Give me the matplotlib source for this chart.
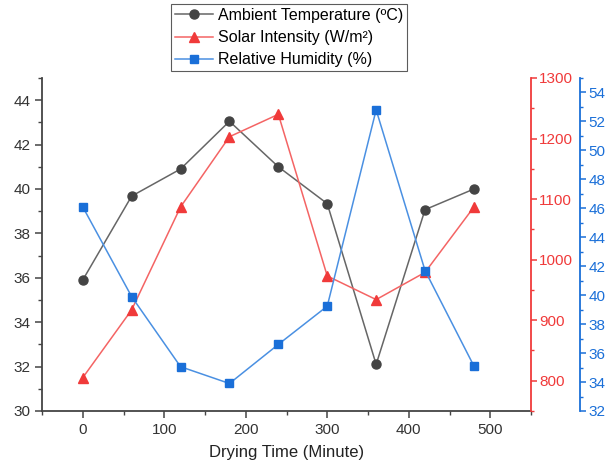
import matplotlib
matplotlib.use("Agg")
import matplotlib.pyplot as plt
from matplotlib.ticker import MultipleLocator

plt.rcParams['font.family'] = ['Liberation Sans', 'DejaVu Sans']

time_min = [0, 60, 120, 180, 240, 300, 360, 420, 480]
ambient_temp = [35.9, 39.68, 40.9, 43.05, 41.0, 39.34, 32.1, 39.07, 40.0]
solar_intensity = [805, 917, 1087, 1203, 1240, 973, 934, 979, 1087]
rel_humidity = [46.1, 39.9, 35.06, 33.9, 36.6, 39.24, 52.8, 41.7, 35.1]

c_black = '#444444'
c_red = '#F03A3A'
c_blue = '#1A6FD8'

fig = plt.figure(figsize=(6.15, 4.66), dpi=100)
ax = fig.add_axes([42/615, 1-411/466, (531-42)/615, (411-78)/466])
ax2 = ax.twinx()
ax3 = ax.twinx()

l1, = ax.plot(time_min, ambient_temp, color='#666666', lw=1.1, marker='o', ms=6.5,
              mfc=c_black, mec=c_black, label='Ambient Temperature (ºC)')
l2, = ax2.plot(time_min, solar_intensity, color='#F46464', lw=1.1, marker='^', ms=7,
               mfc=c_red, mec=c_red, label='Solar Intensity (W/m²)')
l3, = ax3.plot(time_min, rel_humidity, color='#4A90E2', lw=1.1, marker='s', ms=5.5,
               mfc=c_blue, mec=c_blue, label='Relative Humidity (%)')

ax.set_xlim(-50, 550)
ax.set_ylim(30, 45)
ax2.set_ylim(750, 1300)
ax3.set_ylim(32, 55)

ax.xaxis.set_major_locator(MultipleLocator(100))
ax.xaxis.set_minor_locator(MultipleLocator(50))
ax.yaxis.set_major_locator(MultipleLocator(2))
ax.yaxis.set_minor_locator(MultipleLocator(1))
ax2.yaxis.set_major_locator(MultipleLocator(100))
ax2.yaxis.set_minor_locator(MultipleLocator(50))
ax3.yaxis.set_major_locator(MultipleLocator(2))
ax3.yaxis.set_minor_locator(MultipleLocator(1))

for a in (ax, ax2, ax3):
    a.spines['top'].set_visible(False)
ax.spines['right'].set_visible(False)
ax2.spines['left'].set_visible(False)
ax3.spines['left'].set_visible(False)
ax.spines['bottom'].set_color(c_black)
ax.spines['left'].set_color(c_black)
ax.spines['bottom'].set_linewidth(1.3)
ax.spines['left'].set_linewidth(1.3)
ax2.spines['right'].set_color(c_red)
ax2.spines['right'].set_linewidth(1.3)
ax3.spines['right'].set_position(('outward', 49 * 72 / 100))
ax3.spines['right'].set_color(c_blue)
ax3.spines['right'].set_linewidth(1.3)
ax2.spines['bottom'].set_visible(False)
ax3.spines['bottom'].set_visible(False)

ax.tick_params(axis='both', which='major', direction='out', length=5, width=1.1,
               color=c_black, labelcolor='#333333', labelsize=11)
ax.tick_params(axis='both', which='minor', direction='out', length=3, width=1.0, color=c_black)
ax2.tick_params(axis='y', which='major', direction='out', length=4, width=1.1,
                color=c_red, labelcolor=c_red, labelsize=11, pad=2)
ax2.tick_params(axis='y', which='minor', direction='out', length=2.5, width=1.0, color=c_red)
ax3.tick_params(axis='y', which='major', direction='out', length=4, width=1.1,
                color=c_blue, labelcolor=c_blue, labelsize=11, pad=2)
ax3.tick_params(axis='y', which='minor', direction='out', length=2.5, width=1.0, color=c_blue)

ax.set_xlabel('Drying Time (Minute)', fontsize=12, color='#222222', labelpad=6)

leg = fig.legend(handles=[l1, l2, l3], loc='upper center', bbox_to_anchor=(289/615, 1-4/466),
                 fontsize=11.5, frameon=True, fancybox=False, edgecolor='#333333',
                 handlelength=2.4, handletextpad=0.3, borderpad=0.25, labelspacing=0.45,
                 borderaxespad=0.0)
leg.get_frame().set_linewidth(0.8)

fig.savefig('out.png', dpi=100)
